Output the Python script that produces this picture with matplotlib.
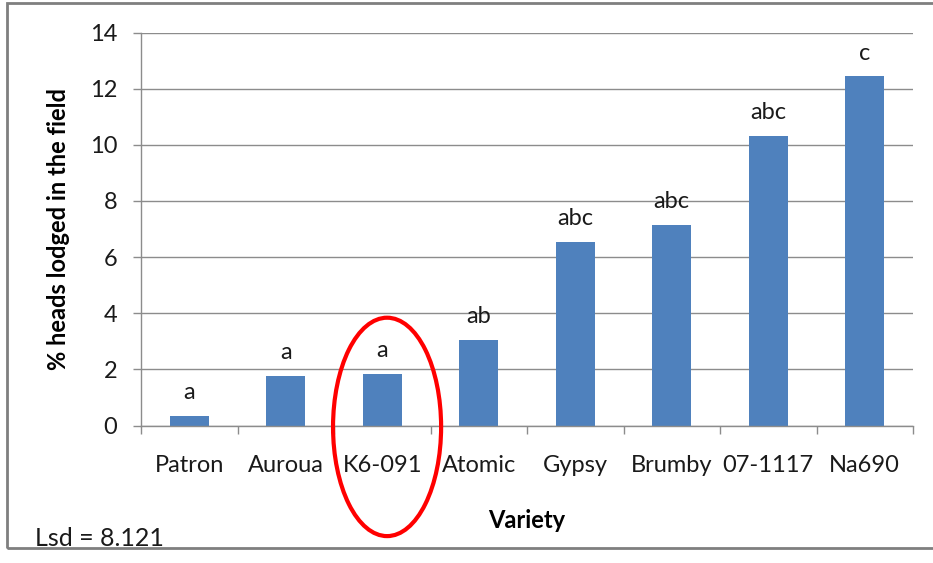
import matplotlib.pyplot as plt
from matplotlib.patches import Ellipse, Rectangle

plt.rcParams['font.family'] = ['Lato', 'DejaVu Sans']

varieties = ['Patron', 'Auroua', 'K6-091', 'Atomic', 'Gypsy', 'Brumby', '07-1117', 'Na690']
lodged = [0.35, 1.77, 1.84, 3.05, 6.55, 7.15, 10.32, 12.45]
groups = ['a', 'a', 'a', 'ab', 'abc', 'abc', 'abc', 'c']
yticks = [0, 2, 4, 6, 8, 10, 12, 14]

bar_color = '#4F81BD'
grid_color = '#8C8C8C'
text_color = '#1a1a1a'
fs = 17

fig = plt.figure(figsize=(9.33, 5.63), dpi=100)
ax = fig.add_axes([141/933, 1 - 425.5/563, (913 - 141)/933, (425.5 - 32.5)/563])

x = list(range(len(varieties)))
ax.bar(x, lodged, width=0.4, color=bar_color, zorder=3)

for xi, v, g in zip(x, lodged, groups):
    ax.annotate(g, xy=(xi, v), xytext=(0, 9), textcoords='offset points',
                ha='center', va='bottom', fontsize=fs, color=text_color)

ax.set_xlim(-0.5, len(varieties) - 0.5)
ax.set_ylim(0, 14)
ax.set_yticks(yticks)
ax.tick_params(axis='y', length=6, width=1, color=grid_color, pad=11,
               labelsize=fs, labelcolor=text_color)
ax.set_xticks(x)
ax.set_xticklabels(varieties)
ax.set_xticks([i - 0.5 for i in range(len(varieties) + 1)], minor=True)
ax.tick_params(axis='x', which='major', length=0, pad=21, labelsize=fs, labelcolor=text_color)
ax.tick_params(axis='x', which='minor', length=6, width=1, color=grid_color)

ax.yaxis.grid(True, color=grid_color, linewidth=1)
ax.set_axisbelow(True)
for s in ['top', 'right']:
    ax.spines[s].set_visible(False)
for s in ['left', 'bottom']:
    ax.spines[s].set_color(grid_color)
    ax.spines[s].set_linewidth(1)
ax.spines['bottom'].set_zorder(4)

ax.set_ylabel('% heads lodged in the field', fontsize=fs, fontweight='bold', labelpad=14)
ax.set_xlabel('Variety', fontsize=fs, fontweight='bold', labelpad=24)

# red circle round K6-091
ax.add_patch(Ellipse((2.05, -0.05), 1.12, 7.78, fill=False, edgecolor='red',
                     linewidth=3, clip_on=False, zorder=5))

fig.text(35/933, 1 - 538/563, 'Lsd = 8.121', fontsize=18, va='center', ha='left', color=text_color)

# chart frame (cut off at the right)
fig.add_artist(Rectangle((7/933, 1 - 548/563), 1.0, (548 - 3)/563,
                         transform=fig.transFigure, fill=False,
                         edgecolor='#7F7F7F', linewidth=2))

fig.savefig('out.png', dpi=100)
